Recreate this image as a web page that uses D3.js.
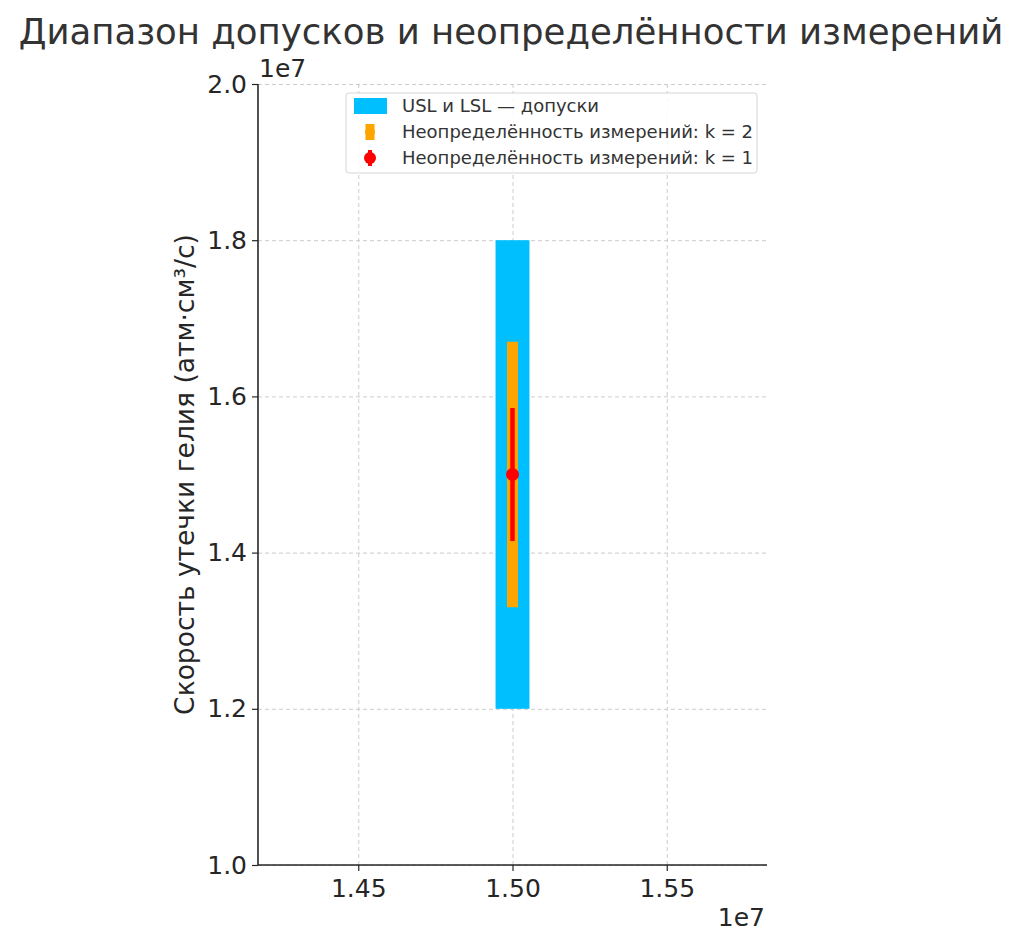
<!DOCTYPE html>
<html>
  <head>
    <meta charset="utf-8">
    <script src="https://d3js.org/d3.v7.min.js"></script>
    <style>
      body { margin: 0; background: #fff; }
      text { font-family: "DejaVu Sans", sans-serif; fill: #262626; }
      .grid line { stroke: #cccccc; stroke-dasharray: 4,3; }
      .grid path { display: none; }
    </style>
  </head>
  <body>
    <svg width="1024" height="948"></svg>
    <script>
      // data (values in units of atm·cm³/s)
      const center = 15e6;
      const lsl = 12e6;
      const usl = 18e6;
      const bandWidth = 1.1e5;
      const uncK1 = 0.085e7;
      const uncK2 = 0.17e7;
      const xTicks = [1.45e7, 1.50e7, 1.55e7];
      const yTicks = [1.0e7, 1.2e7, 1.4e7, 1.6e7, 1.8e7, 2.0e7];
      const legendLabels = ['USL и LSL — допуски', 'Неопределённость измерений: k = 2', 'Неопределённость измерений: k = 1'];

      const svg = d3.select('svg');
      const margin = {left: 258, right: 257, top: 84, bottom: 83};
      const innerWidth = 1024 - margin.left - margin.right;
      const innerHeight = 948 - margin.top - margin.bottom;

      const x = d3.scaleLinear().domain([1.4175e7, 1.5825e7]).range([0, innerWidth]);
      const y = d3.scaleLinear().domain([1.0e7, 2.0e7]).range([innerHeight, 0]);

      svg.append('text')
        .attr('x', 511).attr('y', 44)
        .attr('text-anchor', 'middle')
        .attr('font-size', 35.5).style('fill', '#333')
        .text('Диапазон допусков и неопределённости измерений');

      const g = svg.append('g').attr('transform', `translate(${margin.left},${margin.top})`);

      // grid
      const gx = g.append('g').attr('class', 'grid')
        .attr('transform', `translate(0,${innerHeight})`)
        .call(d3.axisBottom(x).tickValues(xTicks).tickSize(-innerHeight).tickFormat(''));
      const gy = g.append('g').attr('class', 'grid')
        .call(d3.axisLeft(y).tickValues(yTicks).tickSize(-innerWidth).tickFormat(''));
      gx.selectAll('text').remove();
      gy.selectAll('text').remove();

      // tolerance band
      g.append('rect')
        .attr('x', x(center - bandWidth / 2))
        .attr('width', x(center + bandWidth / 2) - x(center - bandWidth / 2))
        .attr('y', y(usl))
        .attr('height', y(lsl) - y(usl))
        .attr('fill', '#00bfff');

      // k = 2
      g.append('line')
        .attr('x1', x(center)).attr('x2', x(center))
        .attr('y1', y(center - uncK2)).attr('y2', y(center + uncK2))
        .attr('stroke', 'orange').attr('stroke-width', 11);

      // k = 1
      g.append('line')
        .attr('x1', x(center)).attr('x2', x(center))
        .attr('y1', y(center - uncK1)).attr('y2', y(center + uncK1))
        .attr('stroke', 'red').attr('stroke-width', 4.5);
      g.append('circle')
        .attr('cx', x(center)).attr('cy', y(center))
        .attr('r', 6.5).attr('fill', 'red');

      // axes
      const xAxis = g.append('g')
        .attr('transform', `translate(0,${innerHeight})`)
        .call(d3.axisBottom(x).tickValues(xTicks).tickSize(6).tickPadding(8)
          .tickFormat(d => (d / 1e7).toFixed(2)));
      const yAxis = g.append('g')
        .call(d3.axisLeft(y).tickValues(yTicks).tickSize(6).tickPadding(5)
          .tickFormat(d => (d / 1e7).toFixed(1)));
      [xAxis, yAxis].forEach(a => {
        a.attr('font-size', 25).attr('font-family', 'DejaVu Sans, sans-serif');
        a.select('.domain').attr('stroke', '#262626').attr('stroke-width', 1.6);
        a.selectAll('.tick line').attr('stroke', '#262626').attr('stroke-width', 1.2);
        a.selectAll('.tick text').style('fill', '#262626');
      });
      xAxis.select('.domain').attr('d', `M0,0H${innerWidth}`);
      yAxis.select('.domain').attr('d', `M0,0V${innerHeight}`);

      svg.append('text').attr('x', 765).attr('y', 926).attr('text-anchor', 'end')
        .attr('font-size', 25).text('1e7');
      svg.append('text').attr('x', 259).attr('y', 77)
        .attr('font-size', 25).text('1e7');

      svg.append('text')
        .attr('transform', `translate(194,${margin.top + innerHeight / 2}) rotate(-90)`)
        .attr('text-anchor', 'middle')
        .attr('font-size', 26.5)
        .text('Скорость утечки гелия (атм·см³/с)');

      // legend
      const lg = svg.append('g').attr('transform', 'translate(346,93)');
      lg.append('rect').attr('width', 411).attr('height', 80).attr('rx', 3)
        .attr('fill', 'rgba(255,255,255,0.85)').attr('stroke', '#d5d5d5');
      lg.append('rect').attr('x', 8).attr('y', 5).attr('width', 33).attr('height', 16).attr('fill', '#00bfff');
      lg.append('line').attr('x1', 24).attr('x2', 24).attr('y1', 31).attr('y2', 47)
        .attr('stroke', 'orange').attr('stroke-width', 9);
      lg.append('circle').attr('cx', 24).attr('cy', 39).attr('r', 5).attr('fill', 'orange');
      lg.append('line').attr('x1', 24).attr('x2', 24).attr('y1', 57).attr('y2', 73)
        .attr('stroke', 'red').attr('stroke-width', 4);
      lg.append('circle').attr('cx', 24).attr('cy', 65).attr('r', 6).attr('fill', 'red');
      legendLabels.forEach((t, i) => {
        lg.append('text').attr('x', 56).attr('y', 13 + i * 26).attr('dy', '0.35em')
          .attr('font-size', 18).style('fill', '#333').text(t);
      });
    </script>
  </body>
</html>
